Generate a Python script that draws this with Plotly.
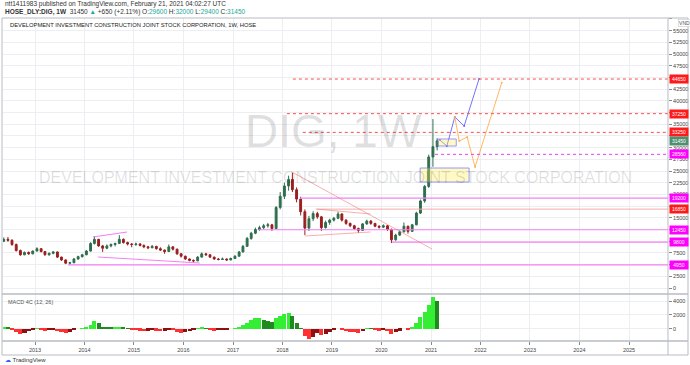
import plotly.graph_objects as go
import pandas as pd

# ---------------- data ----------------
months = pd.date_range("2012-05-01", "2021-02-01", freq="MS") + pd.Timedelta(days=14)

opens = [10000,10400,10200,9300,8000,7100,7600,7300,
         7900,8400,7800,7100,7400,7700,6600,6000,5300,5400,6200,6700,
         7100,7900,9500,10400,9000,8500,9000,9300,9500,10400,9700,9400,
         9300,9400,9100,8800,8600,8900,8400,8100,7800,8800,8300,7300,
         6800,6200,5900,5800,6600,7300,7100,6600,6200,6100,6200,6000,
         6300,6800,7700,8900,10600,11700,12500,12900,13300,13500,12700,17200,
         19600,21800,23200,21000,19000,16300,12800,14800,15900,15200,12900,14000,
         14500,14900,15800,14500,13800,13300,12700,12300,13700,14300,13800,13200,
         13000,13300,12500,10300,11300,12000,13200,12100,13500,16000,18600,21700,
         28000,30200]
highs = [10800,10900,10400,9500,8200,7800,7800,8000,
         8700,8500,7900,7600,7900,7800,6700,6100,5600,6400,6900,7300,
         8100,9800,11100,10500,9200,9300,9500,9700,11300,10600,9900,9600,
         9700,9600,9300,9000,9200,9000,8700,8200,9300,8900,8400,7500,
         6900,6300,6100,6800,7600,7500,7200,6700,6400,6500,6300,6500,
         7000,7900,9200,10900,12000,12900,13300,13700,13900,13700,17500,20500,
         22500,24000,24600,21500,19500,16800,15400,16400,16300,15400,14400,14800,
         15200,16300,16000,14700,14000,13500,12900,13900,14600,14500,13900,13400,
         13600,13400,12700,11600,12300,14000,13300,13700,16300,18900,22000,28500,
         36100,32000]
lows = [9800,9900,9000,7800,6900,7000,7100,7200,
        7800,7600,6900,6900,7200,6400,5800,5100,4950,5300,6000,6500,
        7000,7800,9300,8800,7700,8300,8700,8900,9400,9500,9100,8700,
        9000,8900,8500,8300,8500,8200,7900,7300,7700,8000,7100,6500,
        6000,5700,5400,5700,6500,6900,6400,6000,5900,6000,5800,5900,
        6200,6700,7600,8800,10300,11500,12200,12600,12900,12200,12600,16800,
        19000,20800,20500,18300,15500,11300,12200,14300,14800,12200,12700,13500,
        14200,14700,14200,13500,13000,12400,11800,12200,13500,13500,13000,12700,
        12800,12200,9600,10100,11100,11900,11600,12000,13400,15800,18200,21400,
        25900,29400]
closes = [10400,10200,9300,8000,7100,7600,7300,7900,
          8400,7800,7100,7400,7700,6600,6000,5300,5400,6200,6700,7100,
          7900,9500,10400,9000,8500,9000,9300,9500,10400,9700,9400,9300,
          9400,9100,8800,8600,8900,8400,8100,7800,8800,8300,7300,6800,
          6200,5900,5800,6600,7300,7100,6600,6200,6100,6200,6000,6300,
          6800,7700,8900,10600,11700,12500,12900,13300,13500,12700,17200,19600,
          21800,23200,21000,19000,16300,12800,14800,15900,15200,12900,14000,14500,
          14900,15800,14500,13800,13300,12700,12300,13700,14300,13800,13200,13000,
          13300,12500,10300,11300,12000,13200,12100,13500,16000,18600,21700,28000,
          30200,31450]
macd_hist = [200,150,-100,-450,-650,-550,-350,-100,
             50,-100,-250,-150,-100,-300,-500,-600,-450,-150,0,100,
             250,600,1100,800,350,250,200,200,350,300,100,-50,
             -150,-250,-300,-250,-200,-250,-300,-250,-100,-200,-400,-550,
             -500,-350,-150,50,150,50,-150,-250,-200,-100,-100,0,
             100,200,500,900,1300,1500,1500,1350,1150,950,1500,1900,
             2100,2350,1800,900,100,-1000,-1400,-1100,-600,-900,-700,-400,
             -150,0,-100,-300,-400,-500,-550,-300,100,50,-200,-250,
             -200,-350,-650,-500,-250,0,-100,200,900,1700,2400,3500,
             4600,4000]

price_ticks = list(range(0, 57501, 2500))
hidden_price_ticks = [57500, 45000, 37500, 32500, 17500, 12500, 10000, 5000]  # covered by labels
macd_ticks = [0, 2000, 4000]
years = list(range(2013, 2026))

# horizontal levels (value, start as decimal year)
level_values = [44650, 37250, 33250, 28560, 19200, 16850, 12450, 9800, 4950]
level_starts = [2018.21, 2018.09, 2018.41, 2021.08, 2018.35, 2018.70, 2017.52, 2020.21, 2013.67]
level_kinds = ["rdot", "rdot", "rdot", "mdot", "m", "r", "m", "m", "m"]

# trend lines: (t0, v0, t1, v1)
wedge_lines = [(2014.17, 10900, 2014.86, 11970), (2014.27, 6620, 2016.33, 5340)]
tri_lines = [(2018.67, 16880, 2019.78, 15810), (2018.45, 11110, 2019.78, 11970),
             (2018.19, 24790, 2021.02, 8330)]
boxes = [(2020.78, 25640, 2021.77, 22650), (2021.14, 31840, 2021.51, 30340)]
blue_t = [2021.18, 2021.32, 2021.48, 2021.67, 2021.97]
blue_v = [31620, 30340, 36540, 34620, 44650]
orange_t = [2021.48, 2021.57, 2021.73, 2021.89, 2022.43]
orange_v = [36540, 31410, 32260, 25850, 43860]

# ---------------- helpers ----------------
W, H = 690, 365
def px(x):
    return x / W
def py(y):
    return 1 - y / H
def dy(t):
    y = int(t)
    start = pd.Timestamp(year=y, month=1, day=1)
    end = pd.Timestamp(year=y + 1, month=1, day=1)
    return (start + (end - start) * (t - y)).strftime("%Y-%m-%d %H:%M")

X_LEFT, X_RIGHT = 2012.354, 2025.788
PRICE_RANGE = [-1282, 57692]
MACD_RANGE = [-1716, 5000]

fig = go.Figure()

fig.add_trace(go.Candlestick(
    x=months, open=opens, high=highs, low=lows, close=closes,
    increasing=dict(line=dict(color="#2f6e4e", width=1), fillcolor="#2f6e4e"),
    decreasing=dict(line=dict(color="#9a1f1f", width=1), fillcolor="#9a1f1f"),
    xaxis="x", yaxis="y", showlegend=False, hoverinfo="skip"))

mcolors = []
for i, v in enumerate(macd_hist):
    prev = macd_hist[i - 1] if i > 0 else v
    if v >= 0:
        mcolors.append("#33ee33" if v >= prev else "#1f8a1f")
    else:
        mcolors.append("#ff3030" if v < prev else "#8e0f0f")
fig.add_trace(go.Bar(x=months, y=macd_hist, marker=dict(color=mcolors, line=dict(width=0)),
                     width=30 * 24 * 3600 * 1000, xaxis="x2", yaxis="y2",
                     showlegend=False, hoverinfo="skip"))

fig.add_trace(go.Scatter(x=[dy(t) for t in blue_t], y=blue_v, mode="lines+markers",
                         line=dict(color="rgba(90,90,255,0.85)", width=1),
                         marker=dict(size=2, color="rgba(90,90,255,0.85)"),
                         xaxis="x", yaxis="y", showlegend=False, hoverinfo="skip"))
fig.add_trace(go.Scatter(x=[dy(t) for t in orange_t], y=orange_v, mode="lines+markers",
                         line=dict(color="rgba(255,175,80,0.9)", width=1),
                         marker=dict(size=2, color="rgba(255,175,80,0.9)"),
                         xaxis="x", yaxis="y", showlegend=False, hoverinfo="skip"))

shapes = []
xr = dy(X_RIGHT)
for v, t0, k in zip(level_values, level_starts, level_kinds):
    if k == "rdot":
        ln = dict(color="#ff4d4d", width=1, dash="dot")
    elif k == "mdot":
        ln = dict(color="#e040fb", width=1, dash="dot")
    elif k == "r":
        ln = dict(color="#f7a8a8", width=1)
    else:
        ln = dict(color="#f580f5", width=1.2)
    shapes.append(dict(type="line", xref="x", yref="y", x0=dy(t0), x1=xr, y0=v, y1=v, line=ln))
for (t0, v0, t1, v1) in wedge_lines:
    shapes.append(dict(type="line", xref="x", yref="y", x0=dy(t0), x1=dy(t1), y0=v0, y1=v1,
                       line=dict(color="#f580f5", width=1.2)))
for (t0, v0, t1, v1) in tri_lines:
    shapes.append(dict(type="line", xref="x", yref="y", x0=dy(t0), x1=dy(t1), y0=v0, y1=v1,
                       line=dict(color="rgba(240,110,110,0.55)", width=1)))
for (t0, v0, t1, v1) in boxes:
    shapes.append(dict(type="rect", xref="x", yref="y", x0=dy(t0), x1=dy(t1), y0=v0, y1=v1,
                       fillcolor="rgba(255,240,90,0.35)", line=dict(color="rgba(110,110,255,0.7)", width=1)))

# frame and separators
g = "#b8bbc4"
shapes += [
    dict(type="rect", xref="paper", yref="paper", x0=px(2), x1=px(688), y0=py(355), y1=py(18),
         line=dict(color=g, width=1)),
    dict(type="line", xref="paper", yref="paper", x0=px(2), x1=px(688), y0=py(294), y1=py(294),
         line=dict(color=g, width=1.5)),
    dict(type="line", xref="paper", yref="paper", x0=px(2), x1=px(688), y0=py(341), y1=py(341),
         line=dict(color=g, width=1.5)),
    dict(type="line", xref="paper", yref="paper", x0=px(668), x1=px(668), y0=py(355), y1=py(18),
         line=dict(color=g, width=1)),
]

ann = []
def A(**kw):
    kw.setdefault("xref", "paper")
    kw.setdefault("yref", "paper")
    kw.setdefault("showarrow", False)
    kw.setdefault("yanchor", "middle")
    ann.append(kw)

# watermarks
A(text="DIG, 1W", x=px(333), y=py(131),
  font=dict(size=46, color="rgba(0,0,0,0.13)", family="Liberation Sans"))
A(text="DEVELOPMENT INVESTMENT CONSTRUCTION JOINT STOCK CORPORATION", x=px(335), y=py(177),
  font=dict(size=16, color="rgba(0,0,0,0.13)", family="Liberation Sans"))
# header
A(text="ntt1411983 published on TradingView.com, February 21, 2021 04:02:27 UTC",
  x=px(3), y=py(4), xanchor="left", font=dict(size=6.5, color="#333", family="Liberation Sans"))
tc = "#26a69a"
A(text=("<b>HOSE_DLY:DIG, 1W</b>  31450 <span style='color:%s'>▲</span> +650 (+2.11%%) "
        "O:<span style='color:%s'>29600</span> H:<span style='color:%s'>32000</span> "
        "L:<span style='color:%s'>29400</span> C:<span style='color:%s'>31450</span>") % (tc, tc, tc, tc, tc),
  x=px(3), y=py(11.5), xanchor="left", font=dict(size=6.5, color="#333", family="Liberation Sans"))
A(text="DEVELOPMENT INVESTMENT CONSTRUCTION JOINT STOCK CORPORATION, 1W, HOSE",
  x=px(8), y=py(24.5), xanchor="left", font=dict(size=5.8, color="#222", family="Liberation Sans"))
A(text="MACD 4C (12, 26)", x=px(6), y=py(302), xanchor="left",
  font=dict(size=5.5, color="#555", family="Liberation Sans"))
A(text="<span style='color:#2962ff'>☁</span> TradingView", x=px(3), y=py(359.5), xanchor="left",
  font=dict(size=6, color="#333", family="Liberation Sans"))
# price labels
label_vals = level_values + [31450]
label_cols = ["#ff1a1a", "#ff1a1a", "#ff1a1a", "#ff00ff", "#ff00ff", "#ff1a1a", "#ff00ff", "#ff00ff", "#ff00ff", "#4f8f6f"]
for v, c in zip(label_vals, label_cols):
    A(text=str(v), x=px(669), y=v, yref="y", xanchor="left", bgcolor=c, width=17, height=6.5,
      borderpad=0.5, font=dict(size=5, color="white", family="Liberation Sans"))
A(text="VND", x=px(678), y=py(22.5), xanchor="left", bgcolor="white", bordercolor="#ccc",
  borderwidth=0.6, borderpad=0.5, font=dict(size=5, color="#555", family="Liberation Sans"))

gridc = "#eceef2"
axfont = dict(size=5.5, color="#444", family="Liberation Sans")
fig.update_layout(
    width=W, height=H, margin=dict(l=0, r=0, t=0, b=0),
    paper_bgcolor="white", plot_bgcolor="white",
    shapes=shapes, annotations=ann, bargap=0,
    xaxis=dict(domain=[px(3), px(668)], range=[dy(X_LEFT), xr], type="date", anchor="y",
               tickvals=[f"{y}-01-01" for y in years], showticklabels=False,
               showgrid=True, gridcolor=gridc, zeroline=False, rangeslider=dict(visible=False)),
    yaxis=dict(domain=[py(294), py(18)], range=PRICE_RANGE, side="right", anchor="x",
               tickvals=price_ticks,
               ticktext=["" if t in hidden_price_ticks else str(t) for t in price_ticks],
               tickfont=axfont, ticks="outside", ticklen=3, tickcolor="#888",
               showgrid=True, gridcolor=gridc, zeroline=False),
    xaxis2=dict(domain=[px(3), px(668)], range=[dy(X_LEFT), xr], type="date", anchor="y2", matches="x",
                tickvals=[f"{y}-01-01" for y in years], ticktext=[str(y) for y in years],
                tickfont=axfont, ticks="outside", ticklen=3, tickcolor="#888",
                showgrid=True, gridcolor=gridc, zeroline=False),
    yaxis2=dict(domain=[py(341), py(294)], range=MACD_RANGE, side="right", anchor="x2",
                tickvals=macd_ticks, ticktext=[str(t) for t in macd_ticks],
                tickfont=axfont, ticks="outside", ticklen=3, tickcolor="#888",
                showgrid=True, gridcolor=gridc, zeroline=False),
)

fig.write_html("out.html")
